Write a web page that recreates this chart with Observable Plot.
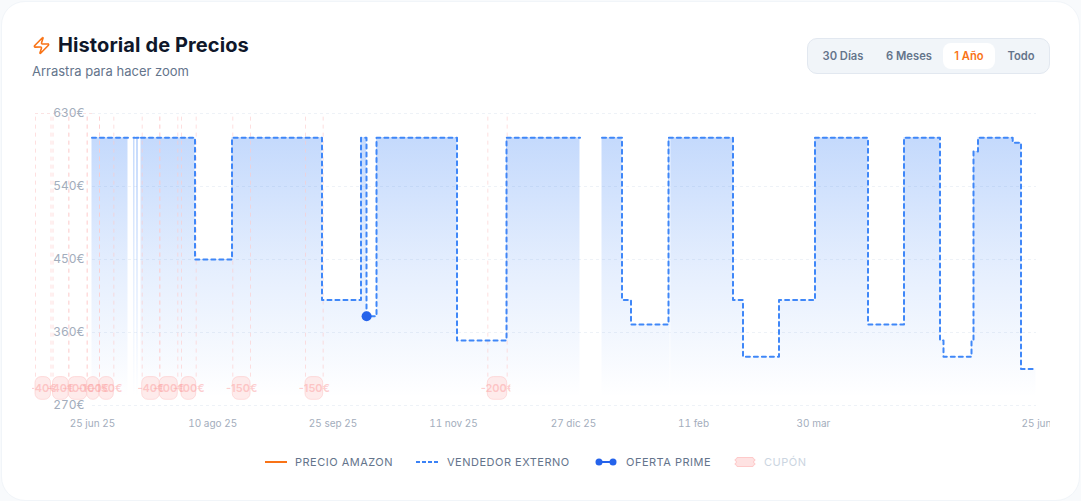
<!DOCTYPE html>
<html lang="es">
<head>
<meta charset="utf-8">
<script src="https://cdn.jsdelivr.net/npm/d3@7"></script>
<script src="https://cdn.jsdelivr.net/npm/@observablehq/plot@0.6"></script>
<style>
  html, body { margin: 0; padding: 0; width: 1081px; height: 501px; overflow: hidden; background: #f8fafc; font-family: Inter, sans-serif; }
  #card { position: absolute; left: 1px; top: 1px; width: 1077px; height: 498px; background: #fff; border: 1px solid #f1f5f9; border-radius: 24px; }
  .abs { position: absolute; white-space: nowrap; }
  #icon { left: 32px; top: 36px; width: 19px; height: 19px; }
  #title { left: 58px; top: 32px; font-size: 20px; line-height: 26px; font-weight: 700; letter-spacing: 0.1px; color: #0f172a; }
  #sub { left: 32px; top: 63px; font-size: 13px; line-height: 17px; color: #64748b; }
  #tabs { left: 807px; top: 38px; width: 241px; height: 34px; background: #f1f5f9; border: 1px solid #e2e8f0; border-radius: 10px; }
  .tab { position: absolute; top: 4px; height: 26px; line-height: 26px; text-align: center; font-size: 11.2px; font-weight: 600; color: #64748b; }
  .tab.on { background: #fff; color: #f97316; border-radius: 8px; }
  #chart { left: 32px; top: 100px; width: 1018px; height: 335px; overflow: hidden; }
  #chart svg { display: block; background: transparent; }
  .leg { position: absolute; top: 455px; height: 14px; line-height: 14px; font-size: 11px; letter-spacing: 0.5px; color: #64748b; white-space: nowrap; }
  .leg svg { position: absolute; left: 0; top: 0; }
  .leg span { position: absolute; top: 0; }
</style>
</head>
<body>
<div id="card"></div>
<svg class="abs" id="icon" viewBox="0 0 24 24" fill="none" stroke="#f97316" stroke-width="2" stroke-linecap="round" stroke-linejoin="round"><path d="M4 14a1 1 0 0 1-.78-1.63l9.9-10.2a.5.5 0 0 1 .86.46l-1.92 6.02A1 1 0 0 0 13 10h7a1 1 0 0 1 .78 1.63l-9.9 10.2a.5.5 0 0 1-.86-.46l1.92-6.02A1 1 0 0 0 11 14z"/></svg>
<div class="abs" id="title">Historial de Precios</div>
<div class="abs" id="sub">Arrastra para hacer zoom</div>
<div class="abs" id="tabs">
  <div class="tab" style="left:4px;width:62px">30 Días</div>
  <div class="tab" style="left:68px;width:66px">6 Meses</div>
  <div class="tab on" style="left:135px;width:52px">1 Año</div>
  <div class="tab" style="left:189px;width:48px">Todo</div>
</div>
<div class="abs" id="chart"></div>

<div class="leg" style="left:265px"><svg width="22" height="14"><line x1="0" x2="22" y1="7" y2="7" stroke="#f97316" stroke-width="2"/></svg><span style="left:30px">PRECIO AMAZON</span></div>
<div class="leg" style="left:416px"><svg width="22" height="14"><line x1="0" x2="22" y1="7" y2="7" stroke="#3b82f6" stroke-width="2" stroke-dasharray="4 2"/></svg><span style="left:31px">VENDEDOR EXTERNO</span></div>
<div class="leg" style="left:595px"><svg width="22" height="14"><line x1="3" x2="19" y1="7" y2="7" stroke="#2563eb" stroke-width="2"/><circle cx="4" cy="7" r="3.5" fill="#2563eb"/><circle cx="18" cy="7" r="3.5" fill="#2563eb"/></svg><span style="left:31px">OFERTA PRIME</span></div>
<div class="leg" style="left:734px;color:#cbd5e1"><svg width="22" height="14"><path d="M3 2.5H19a2 2 0 0 0 2 2V5.5a1.5 1.5 0 0 0 0 3V9.5a2 2 0 0 0-2 2H3a2 2 0 0 0-2-2V8.5a1.5 1.5 0 0 0 0-3V4.5a2 2 0 0 0 2-2z" fill="#fee2e2" stroke="#fecaca"/></svg><span style="left:30px">CUPÓN</span></div>

<script>
// Position along the series (x unit) where each price interval begins; null price = no data.
const stepStarts = [0, 13.92, 16.05, 16.63, 17.21, 17.98, 18.95, 39.83, 54.14, 88.94, 104.02, 106.15, 110.02, 141.15, 160.29, 188.71, 197.22, 204.95, 208.43, 222.93, 247.87, 251.74, 265.66, 279.58, 300.08, 314.0, 327.92, 329.27, 340.10, 340.87, 342.61, 356.03, 359.24];
const stepPrices = [600, null, 600, null, 600, null, 600, 450, 600, 400, 600, 380, 600, 350, 600, null, 600, 400, 370, 600, 400, 330, 400, 600, 370, 600, 350, 330, 350, 583, 600, 594, 315];
const seriesEnd = 365.04;

const primeAt = [106.0];
const primePrice = [380];

const couponStart = [-22.04, -15.27, -9.16, -2.05, 2.71, 19.22, 26.02, 34.42, 54.25, 82.37, 152.86];
const couponEnd   = [-16.05, -9.16, -2.05, 2.71, 8.24, 26.02, 32.98, 40.1, 61.1, 89.2, 160.36];
const couponText  = ["-40€", "-40€", "-100€", "-100€", "-150€", "-40€", "-100€", "-100€", "-150€", "-150€", "-200€"];
const couponTop = 305, couponBottom = 277, couponLineTop = 630;

const tickAt = [0, 46.5, 93, 139.6, 186, 232.4, 278.8, 365.04];
const tickText = ["25 jun 25", "10 ago 25", "25 sep 25", "11 nov 25", "27 dic 25", "11 feb", "30 mar", "25 jun"];
const priceTicks = [270, 360, 450, 540, 630];
const seamAt = [223.3];

const rows = [];
stepStarts.forEach((s, i) => {
  const p = stepPrices[i];
  const next = i + 1 < stepStarts.length ? stepStarts[i + 1] : seriesEnd;
  rows.push({x: s, price: p});
  if (p != null && (i + 1 === stepStarts.length || stepPrices[i + 1] == null)) rows.push({x: next, price: p});
});
const coupons = couponStart.map((s, i) => ({x1: s, x2: couponEnd[i], label: couponText[i], mid: (s + couponEnd[i]) / 2}));

const gradient = () => {
  const defs = d3.create("svg:defs");
  const g = defs.append("linearGradient").attr("id", "fillGrad").attr("x1", 0).attr("x2", 0).attr("y1", 0).attr("y2", 1);
  g.append("stop").attr("offset", "0%").attr("stop-color", "#3b82f6").attr("stop-opacity", 0.3);
  g.append("stop").attr("offset", "50%").attr("stop-color", "#3b82f6").attr("stop-opacity", 0.13);
  g.append("stop").attr("offset", "97%").attr("stop-color", "#3b82f6").attr("stop-opacity", 0);
  return defs.node();
};

const plot = Plot.plot({
  width: 1018, height: 335,
  marginLeft: 60, marginRight: 14, marginTop: 13, marginBottom: 30,
  style: {background: "transparent", fontFamily: "Inter, sans-serif", overflow: "visible"},
  x: {type: "linear", domain: [0, seriesEnd]},
  y: {domain: [270, 630]},
  marks: [
    gradient,
    Plot.ruleY(priceTicks, {stroke: "#eef2f7", strokeDasharray: "3 3"}),
    Plot.area(rows, {x1: "x", y1: 270, y2: "price", curve: "step-after", fill: "url(#fillGrad)", dx: -0.5}),
    Plot.ruleX(seamAt, {y1: 270, y2: 600, stroke: "#fff", strokeOpacity: 0.7}),
    Plot.ruleX(coupons, {x: "x1", y1: couponTop, y2: couponLineTop, stroke: "#fecaca", strokeOpacity: 0.6, strokeDasharray: "4 4"}),
    Plot.ruleX(coupons, {x: "x2", y1: couponTop, y2: couponLineTop, stroke: "#fecaca", strokeOpacity: 0.6, strokeDasharray: "4 4"}),
    Plot.ruleY([630], {x1: coupons[0].x1, x2: 0, stroke: "#fbe3e3", strokeDasharray: "3 3"}),
    Plot.rect(coupons, {x1: "x1", x2: "x2", y1: couponBottom, y2: couponTop, rx: 6, fill: "#fee2e2", fillOpacity: 0.7, stroke: "#fecaca", strokeOpacity: 0.6}),
    Plot.text(coupons, {x: "mid", y: (couponTop + couponBottom) / 2, text: "label", fill: "#fca5a5", fillOpacity: 0.55, fontSize: 11, fontWeight: 600}),
    Plot.line(rows, {x: "x", y: "price", curve: "step-after", stroke: "#3f87f8", strokeWidth: 2, strokeDasharray: "4 4", dx: -0.5}),
    Plot.dot(primeAt.map((x, i) => ({x, price: primePrice[i]})), {x: "x", y: "price", r: 5, fill: "#2563eb"}),
    Plot.axisY({ticks: priceTicks, tickSize: 0, tickPadding: 8, tickFormat: d => d + "€", label: null, fill: "#a3adbc", fontSize: 12}),
    Plot.axisX({ticks: tickAt, tickSize: 0, tickPadding: 14, tickFormat: d => tickText[tickAt.indexOf(d)], label: null, fill: "#a3adbc", fontSize: 10, textOverflow: null})
  ]
});
document.getElementById("chart").append(plot);
// The reference's last coupon label is cut off on its right side.
plot.querySelectorAll("text").forEach(t => { if (t.textContent === "-200€") t.style.clipPath = "inset(-2px 4px -2px -2px)"; });
</script>
</body>
</html>
